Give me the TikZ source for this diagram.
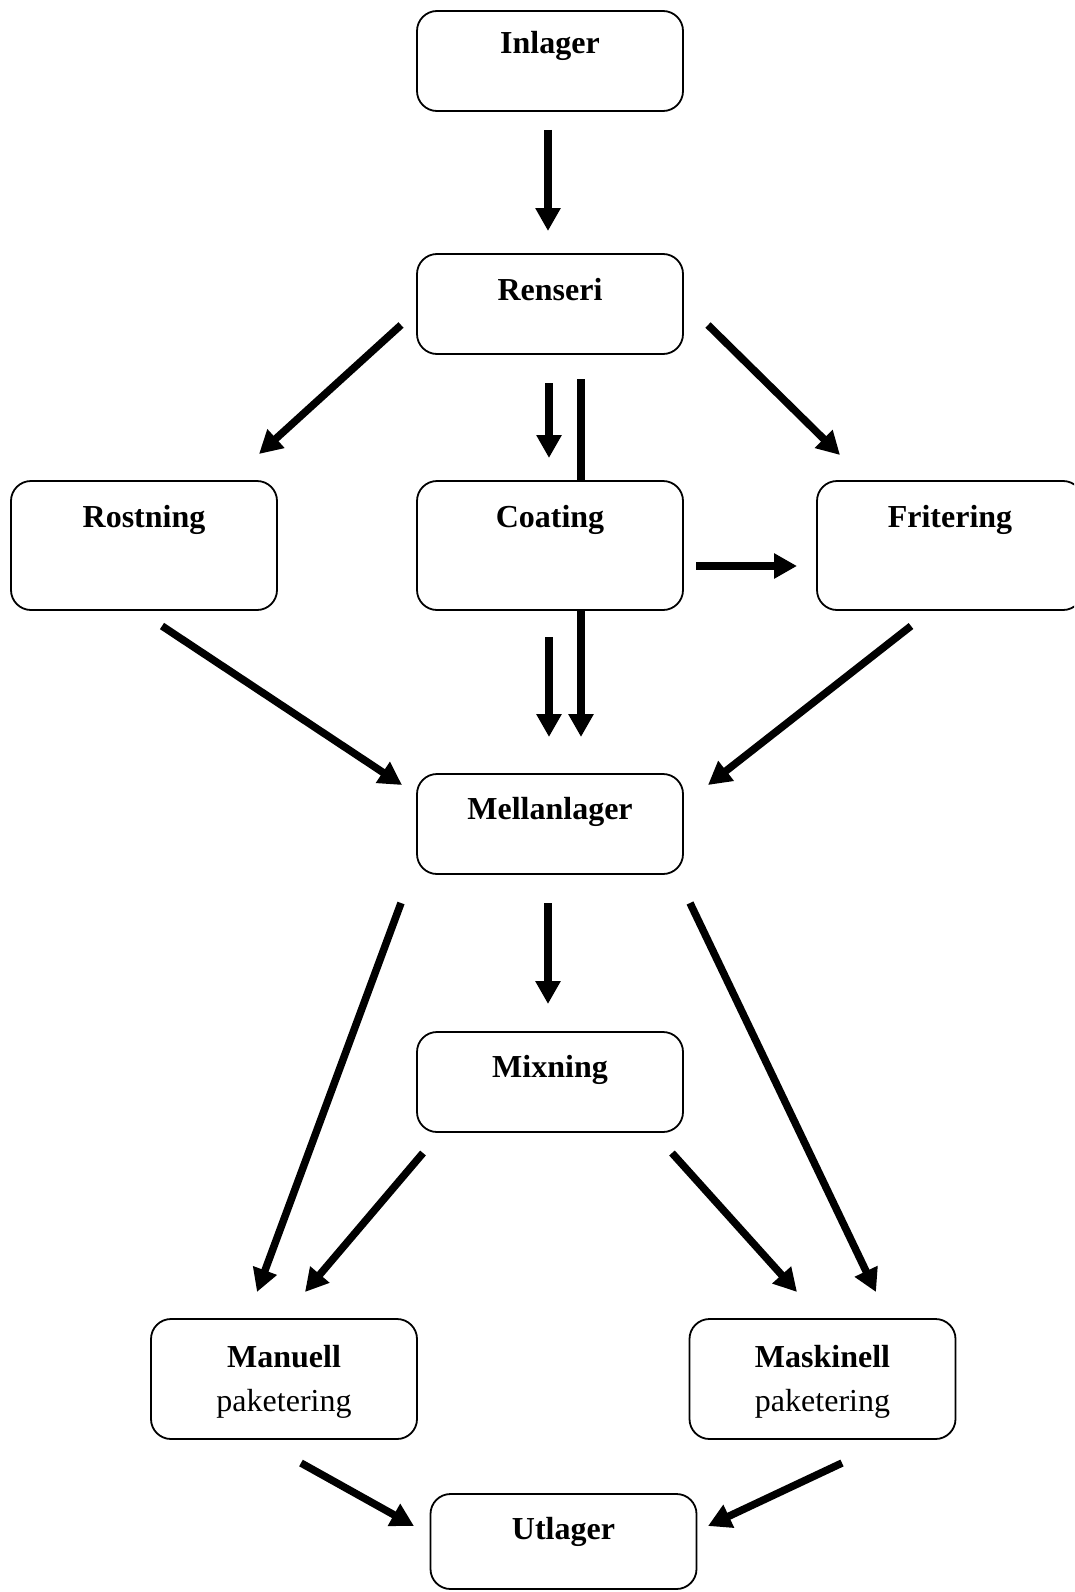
\documentclass[tikz,border=0pt]{standalone}
\usepackage{fontspec}
\setmainfont{Liberation Serif}
\usetikzlibrary{arrows.meta}
\begin{document}
\begin{tikzpicture}[x=1pt,y=-1pt,
  box/.style={draw=black,line width=1.8pt,rounded corners=20pt,fill=white,minimum width=266pt,inner sep=0pt},
  ttl/.style={anchor=base,font=\fontsize{32}{36}\selectfont\bfseries,inner sep=0pt},
  sub/.style={anchor=base,font=\fontsize{32}{36}\selectfont,inner sep=0pt},
  arr/.style={line width=7.5pt,-{Triangle[width=24pt,length=23pt]}}]
\clip (0,0) rectangle (1074,1592);
\fill[white] (0,0) rectangle (1074,1592);
% long line behind Coating
\coordinate (l1) at (581,379);
\coordinate (l2) at (581,737);
\draw[arr] (l1) -- (l2);
% boxes
\node[box,minimum height=100pt] (inl) at (550,61) {};
\node[ttl] (inlt) at ([yshift=-43pt]inl.north) {Inlager};
\node[box,minimum height=100pt] (ren) at (550,304) {};
\node[ttl] (rent) at ([yshift=-47pt]ren.north) {Renseri};
\node[box,minimum height=129pt] (coat) at (550,545.5) {};
\node[ttl] (coatt) at ([yshift=-47pt]coat.north) {Coating};
\node[box,minimum height=129pt] (rost) at (144,545.5) {};
\node[ttl] (rostt) at ([yshift=-47pt]rost.north) {Rostning};
\node[box,minimum height=129pt] (frit) at (950,545.5) {};
\node[ttl] (fritt) at ([yshift=-47pt]frit.north) {Fritering};
\node[box,minimum height=100pt] (mel) at (550,824) {};
\node[ttl] (melt) at ([yshift=-46pt]mel.north) {Mellanlager};
\node[box,minimum height=100pt] (mix) at (550,1082) {};
\node[ttl] (mixt) at ([yshift=-46pt]mix.north) {Mixning};
\node[box,minimum height=120pt] (man) at (284,1379) {};
\node[ttl] (mant) at ([yshift=-49pt]man.north) {Manuell};
\node[sub] (mans) at ([yshift=-93pt]man.north) {paketering};
\node[box,minimum height=120pt] (mas) at (822.5,1379) {};
\node[ttl] (mast) at ([yshift=-49pt]mas.north) {Maskinell};
\node[sub] (mass) at ([yshift=-93pt]mas.north) {paketering};
\node[box,minimum height=95pt] (utl) at (563.5,1541.5) {};
\node[ttl] (utlt) at ([yshift=-46pt]utl.north) {Utlager};
% connector endpoints
\coordinate (a1) at (548,130);  \coordinate (a2) at (548,231);
\coordinate (b1) at (401,325);  \coordinate (b2) at (259,454);
\coordinate (c1) at (549,383);  \coordinate (c2) at (549,458);
\coordinate (d1) at (708,325);  \coordinate (d2) at (840,455);
\coordinate (e1) at (696,566);  \coordinate (e2) at (797,566);
\coordinate (f1) at (549,637);  \coordinate (f2) at (549,737);
\coordinate (g1) at (162,626);  \coordinate (g2) at (402,785);
\coordinate (h1) at (911,626);  \coordinate (h2) at (708,785);
\coordinate (i1) at (548,903);  \coordinate (i2) at (548,1004);
\coordinate (j1) at (401,903);  \coordinate (j2) at (257,1292);
\coordinate (k1) at (690,903);  \coordinate (k2) at (876,1292);
\coordinate (m1) at (423,1153); \coordinate (m2) at (305,1292);
\coordinate (n1) at (672,1153); \coordinate (n2) at (797,1292);
\coordinate (o1) at (301,1463); \coordinate (o2) at (414,1526);
\coordinate (p1) at (842,1463); \coordinate (p2) at (708,1526);
\foreach \s in {a,b,c,d,e,f,g,h,i,j,k,m,n,o,p}
  \draw[arr] (\s1) -- (\s2);
\end{tikzpicture}
\end{document}
